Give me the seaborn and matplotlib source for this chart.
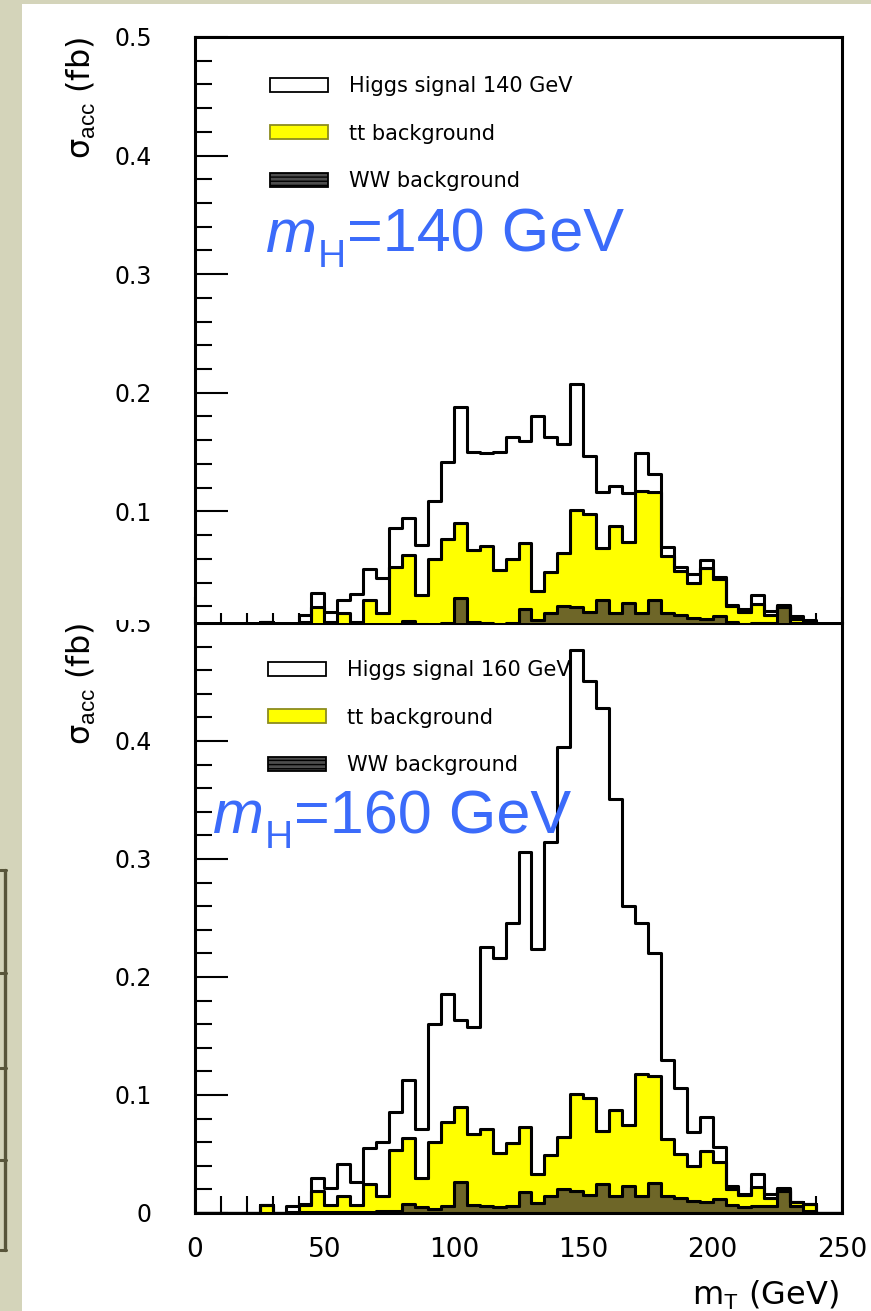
import numpy as np
import pandas as pd
import matplotlib
matplotlib.use("Agg")
import matplotlib.pyplot as plt
from matplotlib.patches import Patch, Rectangle
from matplotlib.lines import Line2D
from matplotlib.ticker import FixedLocator, MultipleLocator, FuncFormatter
import seaborn as sns

# ---------------------------------------------------------------------------
# Accepted cross-section per 5 GeV bin of transverse mass (fb)
# ---------------------------------------------------------------------------
bin_width = 5
mt_range = (0, 250)
bin_centres = np.arange(0, 250, bin_width) + bin_width / 2

process_order = ["Higgs", "tt", "WW"]

ww_bkg = [
    0, 0, 0, 0, 0, 0, 0, 0.001, 0.001, 0.001,
    0.001, 0.001, 0.001, 0.001, 0.002, 0.002, 0.0075, 0.005, 0.0035, 0.006,
    0.0266, 0.007, 0.006, 0.005, 0.006, 0.0178, 0.0085, 0.0144, 0.0206, 0.019,
    0.015, 0.025, 0.0144, 0.0229, 0.0144, 0.0254, 0.0144, 0.013, 0.010, 0.0093,
    0.0115, 0.0068, 0.005, 0.006, 0.006, 0.019, 0.006, 0.002, 0, 0,
]

tt_bkg = [
    0, 0, 0, 0, 0, 0.0068, 0, 0, 0.006, 0.018,
    0.006, 0.013, 0.006, 0.024, 0.012, 0.051, 0.056, 0.0245, 0.0565, 0.071,
    0.0634, 0.060, 0.065, 0.0455, 0.0536, 0.0552, 0.0245, 0.0346, 0.0441, 0.082,
    0.0825, 0.0445, 0.0731, 0.0516, 0.1031, 0.0906, 0.0481, 0.037, 0.030, 0.0432,
    0.0315, 0.0137, 0.0105, 0.016, 0.007, 0.001, 0.003, 0.0055, 0, 0,
]

higgs_140 = [
    0, 0, 0, 0, 0, 0, 0, 0.004, 0.0057, 0.012,
    0.0085, 0.011, 0.023, 0.026, 0.0296, 0.0327, 0.031, 0.0422, 0.0488, 0.065,
    0.0977, 0.083, 0.078, 0.0995, 0.1029, 0.086, 0.147, 0.114, 0.0923, 0.106,
    0.0492, 0.0465, 0.0342, 0.041, 0.0315, 0.0155, 0.0078, 0.0034, 0.007, 0.0066,
    0.002, 0.0005, 0.002, 0.0075, 0.003, 0.001, 0.003, 0.0005, 0, 0,
]

higgs_160 = [
    0, 0, 0, 0, 0, 0, 0, 0.005, 0.001, 0.0104,
    0.0145, 0.0272, 0.0196, 0.0298, 0.0465, 0.0329, 0.0495, 0.0414, 0.100, 0.109,
    0.0736, 0.0904, 0.1547, 0.1653, 0.1859, 0.233, 0.191, 0.2657, 0.3303, 0.376,
    0.3533, 0.3582, 0.2631, 0.1855, 0.1285, 0.1046, 0.0675, 0.0556, 0.0289, 0.0291,
    0.0132, 0.0024, 0.0005, 0.011, 0.003, 0.001, 0, 0.0002, 0, 0,
]

y_ticks = [0, 0.1, 0.2, 0.3, 0.4, 0.5]

# ---------------------------------------------------------------------------
# Style
# ---------------------------------------------------------------------------
sns.set_theme(style="white")
plt.rcParams.update({
    "font.family": ["DejaVu Sans"],
    "mathtext.fontset": "custom",
    "mathtext.rm": "Liberation Sans",
    "mathtext.it": "Liberation Sans:italic",
    "mathtext.bf": "Liberation Sans:bold",
    "hatch.linewidth": 1.0,
    "axes.edgecolor": "black",
    "text.color": "black",
    "axes.labelcolor": "black",
    "xtick.color": "black",
    "ytick.color": "black",
})

palette = {"Higgs": "#ffffff", "tt": "#ffff00", "WW": "#6e6628"}
label_blue = "#3b6bfa"
beige = "#d4d4ba"

W, H = 871, 1311


def fx(x):
    return x / W


def fy(y):
    return 1 - y / H


fig = plt.figure(figsize=(W / 100, H / 100), dpi=100)
fig.patch.set_facecolor(beige)

# white sheet the plots sit on
fig.add_artist(Rectangle((fx(22), 0), 1 - fx(22), fy(4), transform=fig.transFigure,
                         facecolor="white", edgecolor="none", zorder=-5))

# edge of the neighbouring table on the left
strip_color = "#58553a"
for yy in (870, 973, 1068, 1160, 1250):
    fig.add_artist(Line2D([fx(0), fx(6)], [fy(yy), fy(yy)], color=strip_color, lw=2.2))
fig.add_artist(Line2D([fx(5), fx(5)], [fy(870), fy(1250)], color=strip_color, lw=2.4))

ax_bot = fig.add_axes([fx(195), fy(1213), 647 / W, 590 / H], zorder=1)
ax_top = fig.add_axes([fx(195), fy(622), 647 / W, 585 / H], zorder=2)


def draw_panel(ax, signal):
    frame = pd.DataFrame({
        "mT": np.tile(bin_centres, 3),
        "sigma": np.concatenate([signal, tt_bkg, ww_bkg]),
        "process": np.repeat(process_order, len(bin_centres)),
    })
    sns.histplot(data=frame, x="mT", weights="sigma", hue="process",
                 hue_order=process_order, binwidth=bin_width, binrange=mt_range,
                 multiple="stack", element="step", fill=True, palette=palette,
                 alpha=1, edgecolor="black", linewidth=2.2, legend=False, ax=ax)
    for coll in ax.collections:
        coll.set_zorder(3)

    ax.set_xlim(*mt_range)
    ax.set_xlabel("")
    ax.set_ylabel("")
    for sp in ax.spines.values():
        sp.set_linewidth(2.2)
        sp.set_color("black")
        sp.set_visible(True)

    ax.yaxis.set_major_locator(FixedLocator(y_ticks))
    ax.yaxis.set_minor_locator(MultipleLocator(0.02))
    ax.yaxis.set_major_formatter(FuncFormatter(lambda v, p: "0" if abs(v) < 1e-9 else f"{v:.1f}"))
    ax.xaxis.set_major_locator(MultipleLocator(50))
    ax.xaxis.set_minor_locator(MultipleLocator(10))

    ax.tick_params(axis="y", which="major", direction="in", length=23.8, width=1.5,
                   labelsize=17, pad=31, left=True, right=False)
    ax.tick_params(axis="y", which="minor", direction="in", length=12.2, width=1.5,
                   left=True, right=False)
    ax.set_ylabel("σ$_{\\mathrm{acc}}$ (fb)", fontsize=23, loc="top")
    ax.yaxis.set_label_coords(-0.150, 1.0)


def add_legend(ax, mass, x0, y0):
    handles = [
        Patch(facecolor="white", edgecolor="black", linewidth=1.3),
        Patch(facecolor="#ffff00", edgecolor="#8c8c1e", linewidth=1.3),
        Patch(facecolor="#4d4d4d", edgecolor="black", hatch="----", linewidth=1.3),
    ]
    labels = [f"Higgs signal {mass} GeV", "tt background", "WW background"]
    leg = ax.legend(handles, labels, loc="upper left", bbox_to_anchor=(fx(x0), fy(y0)),
                    bbox_transform=fig.transFigure, frameon=False, fontsize=15,
                    handlelength=2.78, handleheight=0.68, handletextpad=1.0,
                    labelspacing=1.32, borderpad=0, borderaxespad=0)
    leg.set_zorder(6)


def mass_label(x, y, mass):
    """Blue 'm_H = ... GeV' annotation built from three text pieces."""
    renderer = fig.canvas.get_renderer()
    common = dict(color=label_blue, family="Liberation Sans", ha="left",
                  va="baseline", zorder=8)
    t_m = fig.text(fx(x), fy(y), "m", fontsize=44, style="italic", **common)
    x1 = t_m.get_window_extent(renderer).x1
    t_h = fig.text((x1 + 1) / W, fy(y + 15), "H", fontsize=28, **common)
    x2 = t_h.get_window_extent(renderer).x1
    fig.text((x2 + 1) / W, fy(y), f"={mass} GeV", fontsize=44, **common)


# ---- upper panel: m_H = 140 GeV ----
draw_panel(ax_top, higgs_140)
ax_top.set_ylim(0.0067, 0.5)
ax_top.spines["bottom"].set_visible(False)
ax_top.tick_params(axis="x", which="major", direction="in", length=18, width=1.5,
                   bottom=True, top=False, labelbottom=False)
ax_top.tick_params(axis="x", which="minor", direction="in", length=6.5, width=1.5,
                   bottom=True, top=False)
add_legend(ax_top, 140, 270, 76)

# white sheet above the lower panel hides the top of its frame labels
cover = Rectangle((fx(22), fy(620)), 1 - fx(22), fy(4) - fy(620), transform=fig.transFigure,
                  facecolor="white", edgecolor="none", zorder=-10)
ax_top.add_artist(cover)
cover.set_clip_on(False)

# ---- lower panel: m_H = 160 GeV ----
draw_panel(ax_bot, higgs_160)
ax_bot.set_ylim(0, 0.5)
ax_bot.tick_params(axis="x", which="major", direction="in", length=23.8, width=1.5,
                   labelsize=19, pad=17, bottom=True, top=False)
ax_bot.tick_params(axis="x", which="minor", direction="in", length=12.2, width=1.5,
                   bottom=True, top=False)
ax_bot.set_xlabel("m$_{\\mathrm{T}}$ (GeV)", fontsize=23, loc="right")
ax_bot.xaxis.set_label_coords(0.9954, -0.112)
add_legend(ax_bot, 160, 268, 660)

# mass hypothesis annotations
mass_label(266, 252, 140)
mass_label(213, 833, 160)

fig.savefig("out.png", dpi=100, facecolor=fig.get_facecolor())
